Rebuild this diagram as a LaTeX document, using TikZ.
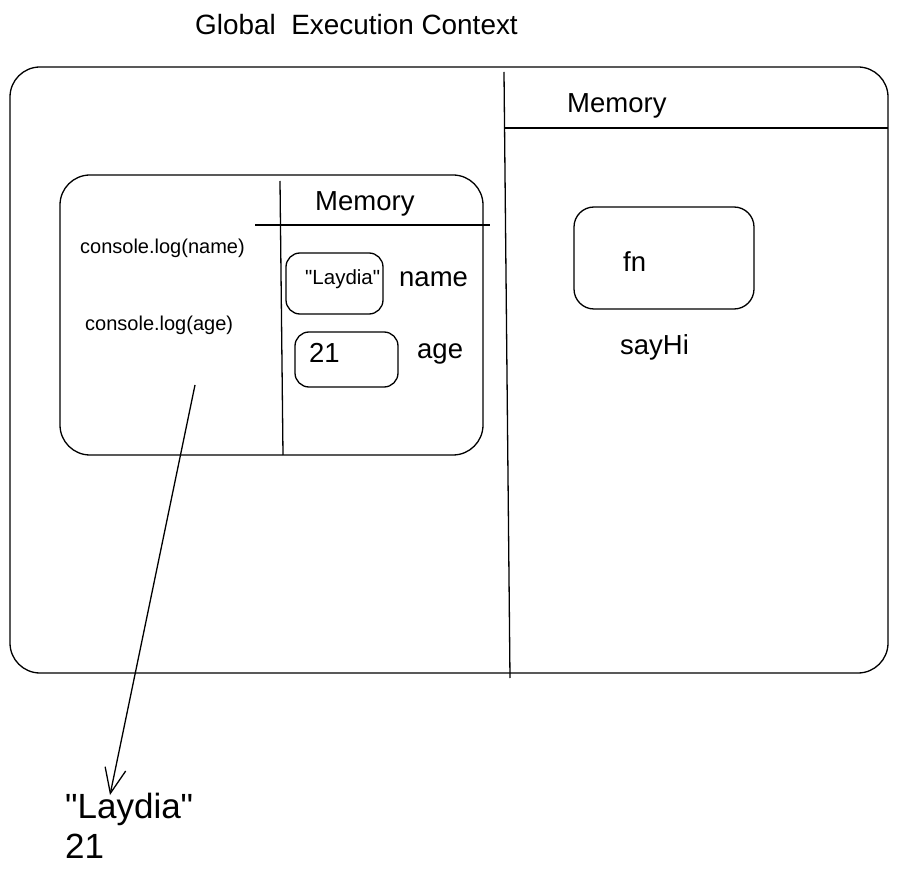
\documentclass[tikz,border=0pt]{standalone}
\usepackage{fontspec}
\setmainfont{Liberation Sans}[Ligatures=TeXOff]
\usetikzlibrary{arrows.meta}
\tikzset{
  ln/.style={line width=1.3pt, black},
  rbox/.style={draw, line width=1.3pt, rectangle, inner sep=0pt},
  txt/.style={inner sep=0pt, anchor=base west},
  big/.style={font=\fontsize{27.5}{33}\selectfont},
  code/.style={font=\fontsize{20}{24}\selectfont},
  outtxt/.style={font=\fontsize{35}{42}\selectfont},
}
\begin{document}
\begin{tikzpicture}[x=1pt,y=-1pt]
\useasboundingbox (0,0) rectangle (898,877);
% title
\node[txt,font=\fontsize{27.9}{33}\selectfont] (title) at (195,35) {Global\ \ Execution Context};
% outer box
\node[rbox, rounded corners=30pt, minimum width=878pt, minimum height=606pt] (outer) at (449,370) {};
\coordinate (divT) at (504,72);
\coordinate (divB) at (510,678);
\draw[ln] (divT) -- (divB);
\coordinate (rhL) at (505,128);
\coordinate (rhR) at (888,128);
\draw[ln] (rhL) -- (rhR);
\node[txt,big] (mem1) at (567,113) {Memory};
% fn box
\node[rbox, rounded corners=20pt, minimum width=180pt, minimum height=102pt] (fnbox) at (664,258) {};
\node[txt,big] (fn) at (623,272) {fn};
\node[txt,big] (sayhi) at (620,355) {sayHi};
% inner box
\node[rbox, rounded corners=30pt, minimum width=423pt, minimum height=280pt] (inner) at (271.5,315) {};
\coordinate (ivT) at (280,181);
\coordinate (ivB) at (283,455);
\draw[ln] (ivT) -- (ivB);
\coordinate (ihL) at (255,225);
\coordinate (ihR) at (490,225);
\draw[line width=2pt] (ihL) -- (ihR);
\node[txt,big] (mem2) at (315,211) {Memory};
\node[txt,code] (c1) at (80,254) {console.log(name)};
\node[txt,code] (c2) at (85,331) {console.log(age)};
% variable boxes
\node[rbox, rounded corners=14pt, minimum width=97pt, minimum height=61pt] (lbox) at (334.5,283.5) {};
\node[txt,font=\fontsize{20.5}{24}\selectfont] (lval) at (305,285) {"Laydia"};
\node[txt,big] (name) at (399,287) {name};
\node[rbox, rounded corners=14pt, minimum width=103pt, minimum height=55pt] (abox) at (346.5,359.5) {};
\node[txt,big] (aval) at (309,363) {21};
\node[txt,big] (age) at (417,359) {age};
% output
\node[txt,outtxt] (o1) at (65,818) {"Laydia"};
\node[txt,outtxt] (o2) at (65,858) {21};
\coordinate (src) at (195,385);
\coordinate (tip) at (110,795);
\draw[ln, -{Straight Barb[length=25pt,width=21pt,line width=1.3pt]}] (src) -- (tip);
\end{tikzpicture}
\end{document}
